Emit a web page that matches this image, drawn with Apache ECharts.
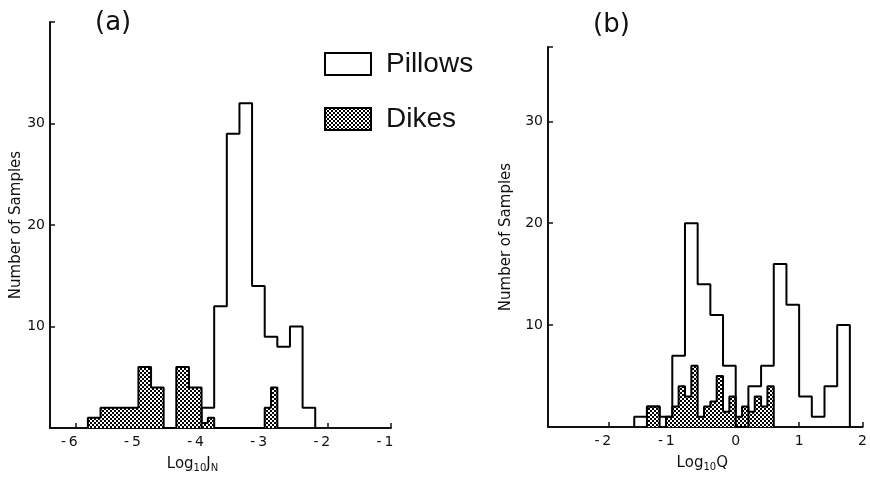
<!DOCTYPE html>
<html><head><meta charset="utf-8">
<script src="https://cdn.jsdelivr.net/npm/echarts@6/dist/echarts.min.js"></script>
<style>html,body{margin:0;padding:0;background:#fff}#c{width:870px;height:479px}</style>
</head><body><div id="c"></div>
<script>
// ---- Panel (a): Log10 J_N ----
const aPillowEdges = [-4.0,-3.8,-3.6,-3.4,-3.2,-3.0,-2.8,-2.6,-2.4,-2.2];
const aPillowCounts = [2,12,29,32,14,9,8,10,2];
const aDikeEdges = [-5.8,-5.6,-5.4,-5.2,-5.0,-4.8,-4.6,-4.4,-4.2,-4.0,-3.9,-3.8,-3.0,-2.9,-2.8];
const aDikeCounts = [1,2,2,2,6,4,0,6,4,0.5,1,0,2,4];
const aXTicks = [-6,-5,-4,-3,-2,-1];
const aYTicks = [10,20,30];
const aYMax = 40;

// ---- Panel (b): Log10 Q ----
const bPillowEdges = [-1.6,-1.4,-1.2,-1.0,-0.8,-0.6,-0.4,-0.2,0,0.2,0.4,0.6,0.8,1.0,1.2,1.4,1.6,1.8];
const bPillowCounts = [1,2,1,7,20,14,11,6,0,4,6,16,12,3,1,4,10];
const bDikeEdges = [-1.4,-1.3,-1.2,-1.1,-1.0,-0.9,-0.8,-0.7,-0.6,-0.5,-0.4,-0.3,-0.2,-0.1,0,0.1,0.2,0.3,0.4,0.5,0.6];
const bDikeCounts = [2,2,0,1,2,4,3,6,1,2,2.5,5,1.5,3,1,2,1.5,3,2,4];
const bXTicks = [-2,-1,0,1,2];
const bYTicks = [10,20,30];
const bYMax = 37.3;

const legendNames = ['Pillows','Dikes'];
const yName = 'Number of Samples';

function steps(edges, counts){
  const pts = [[edges[0],0]];
  for (let i=0;i<counts.length;i++){
    pts.push([edges[i],counts[i]]);
    pts.push([edges[i+1],counts[i]]);
  }
  pts.push([edges[edges.length-1],0]);
  return pts;
}

const pc = document.createElement('canvas');
pc.width = 4; pc.height = 4;
const pctx = pc.getContext('2d');
pctx.fillStyle = '#fff'; pctx.fillRect(0,0,4,4);
pctx.fillStyle = '#000';
pctx.fillRect(0,0,2,2); pctx.fillRect(2,2,2,2);
const hatch = {image: pc, repeat: 'repeat'};

const FONT = 'DejaVu Sans';
const INK = '#111';

function xAxis(grid, min, max, ticks, nameRich, namePad){
  return {
    type:'value', gridIndex:grid, min:min, max:max,
    splitLine:{show:false},
    axisLine:{onZero:false,lineStyle:{color:INK,width:2}},
    axisTick:{inside:true,length:5,lineStyle:{color:INK,width:1.5},customValues:ticks},
    axisLabel:{customValues:ticks, margin:7, color:INK, fontFamily:FONT, fontSize:14,
      formatter: v => v<0 ? '{n|-\u2009'+(-v)+'}' : '{p|'+v+'}',
      rich:{n:{fontFamily:FONT,fontSize:14,color:INK,padding:[0,12,0,0]},p:{fontFamily:FONT,fontSize:14,color:INK}}},
    name:nameRich, nameLocation:'middle', nameGap:24,
    nameTextStyle:{color:INK,fontFamily:FONT,fontSize:15,padding:namePad,
      rich:{m:{fontFamily:FONT,fontSize:15,lineHeight:18,color:INK},
            s:{fontFamily:FONT,fontSize:10,lineHeight:10,padding:[10,0,0,0],color:INK}}}
  };
}
function yAxis(grid, max, ticks, gap){
  return {
    type:'value', gridIndex:grid, min:0, max:max,
    splitLine:{show:false},
    axisLine:{onZero:false,lineStyle:{color:INK,width:2}},
    axisTick:{inside:true,length:5,lineStyle:{color:INK,width:1.5},customValues:ticks.concat([max])},
    axisLabel:{customValues:ticks, margin:5, color:INK, fontFamily:FONT, fontSize:14},
    name:yName, nameLocation:'middle', nameGap:gap,
    nameTextStyle:{color:INK,fontFamily:FONT,fontSize:15}
  };
}
function histo(name, grid, edges, counts, fill){
  const s = {
    name:name, type:'line', xAxisIndex:grid, yAxisIndex:grid,
    data:steps(edges,counts), showSymbol:false, symbol:'none', silent:true,
    lineStyle:{color:'#000',width:2}, itemStyle:{color:'#000'}, animation:false
  };
  if (fill) s.areaStyle = {color:fill, opacity:1, origin:'start'};
  return s;
}

const chart = echarts.init(document.getElementById('c'), null, {renderer:'canvas'});
chart.setOption({
  backgroundColor:'#fff',
  animation:false,
  title:[
    {text:'(a)', left:95, top:10, padding:0, textStyle:{fontFamily:FONT,fontSize:26,fontWeight:'normal',color:INK}},
    {text:'(b)', left:593, top:12, padding:0, textStyle:{fontFamily:FONT,fontSize:26,fontWeight:'normal',color:INK}}
  ],
  legend:{
    orient:'vertical', left:324, top:50, padding:0, itemGap:27, itemWidth:46, itemHeight:22,
    icon:'rect', selectedMode:false,
    textStyle:{fontFamily:'Liberation Sans',fontSize:28,lineHeight:28,color:INK,padding:[0,0,0,10]},
    data:[
      {name:legendNames[0], itemStyle:{color:'#fff',borderColor:'#000',borderWidth:2}},
      {name:legendNames[1], itemStyle:{color:hatch,borderColor:'#000',borderWidth:2}}
    ]
  },
  grid:[
    {left:50, top:22, width:341, height:406},
    {left:548, top:47, width:315.5, height:380}
  ],
  xAxis:[
    xAxis(0,-6.4,-1,aXTicks,'{m|Log}{s|10}{m|J}{s|N}',[0,56,0,0]),
    xAxis(1,-2.96,2,bXTicks,'{m|Log}{s|10}{m|Q}',[0,6,0,0])
  ],
  yAxis:[
    yAxis(0,aYMax,aYTicks,22),
    yAxis(1,bYMax,bYTicks,34)
  ],
  series:[
    histo(legendNames[0],0,aPillowEdges,aPillowCounts,null),
    histo(legendNames[1],0,aDikeEdges,aDikeCounts,hatch),
    histo(legendNames[0],1,bPillowEdges,bPillowCounts,null),
    histo(legendNames[1],1,bDikeEdges,bDikeCounts,hatch)
  ]
});
</script>
</body></html>
